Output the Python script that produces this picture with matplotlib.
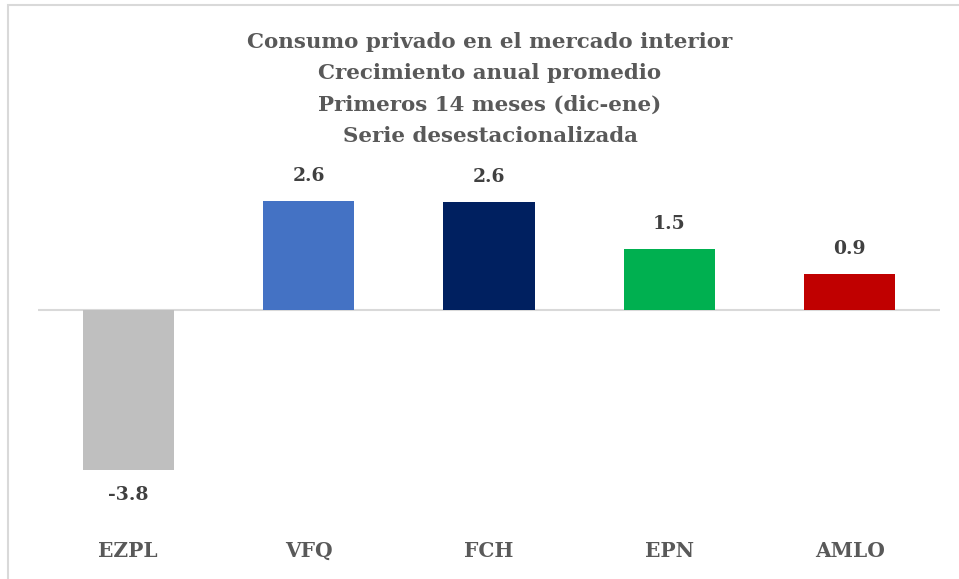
import matplotlib
matplotlib.use("Agg")
import matplotlib.pyplot as plt
from matplotlib.patches import Rectangle

# data
categories = ["EZPL", "VFQ", "FCH", "EPN", "AMLO"]
values = [-3.81, 2.60, 2.57, 1.46, 0.86]
colors = ["#BFBFBF", "#4472C4", "#002060", "#00B050", "#C00000"]
title_lines = [
    "Consumo privado en el mercado interior",
    "Crecimiento anual promedio",
    "Primeros 14 meses (dic-ene)",
    "Serie desestacionalizada",
]

W, H = 959, 579
fig = plt.figure(figsize=(W / 100, H / 100), dpi=100)
plt.rcParams["font.family"] = ["DejaVu Serif"]

# outer frame (only left and top edges visible in the crop)
fig.patches.append(Rectangle((8 / W, -0.05), 1.2, 1 - 5 / H + 0.05,
                             transform=fig.transFigure, fill=False,
                             edgecolor="#D9D9D9", linewidth=1.5))

# axes placed in pixel terms: zero line at y=310, ~42 px per unit
ax_left, ax_right, ax_top, ax_bottom = 38, 940, 160, 530
ax = fig.add_axes([ax_left / W, 1 - ax_bottom / H,
                   (ax_right - ax_left) / W, (ax_bottom - ax_top) / H])
ppu = 42.0
ax.set_ylim(-(ax_bottom - 310) / ppu, (310 - ax_top) / ppu)
ax.set_xlim(-0.5, len(categories) - 0.5)

x = range(len(categories))
bars = ax.bar(x, values, width=0.505, color=colors, zorder=2)
ax.axhline(0, color="#D9D9D9", linewidth=1.5, zorder=1)

for xi, v in zip(x, values):
    off = 16 / ppu
    if v >= 0:
        ax.text(xi, v + off, f"{v:.1f}", ha="center", va="bottom",
                fontsize=13.5, fontweight="bold", color="#404040")
    else:
        ax.text(xi, v - off, f"{v:.1f}", ha="center", va="top",
                fontsize=13.5, fontweight="bold", color="#404040")

ax.set_xticks(list(x))
ax.set_xticklabels(categories, fontsize=14.5, fontweight="bold", color="#595959")
ax.tick_params(axis="x", length=0, pad=8)
ax.set_yticks([])
for s in ax.spines.values():
    s.set_visible(False)
ax.patch.set_alpha(0)

fig.text(490 / W, 1 - 32 / H, "\n".join(title_lines), ha="center", va="top",
         fontsize=15.4, fontweight="bold", color="#595959", linespacing=1.7)

fig.savefig("out.png", dpi=100)
